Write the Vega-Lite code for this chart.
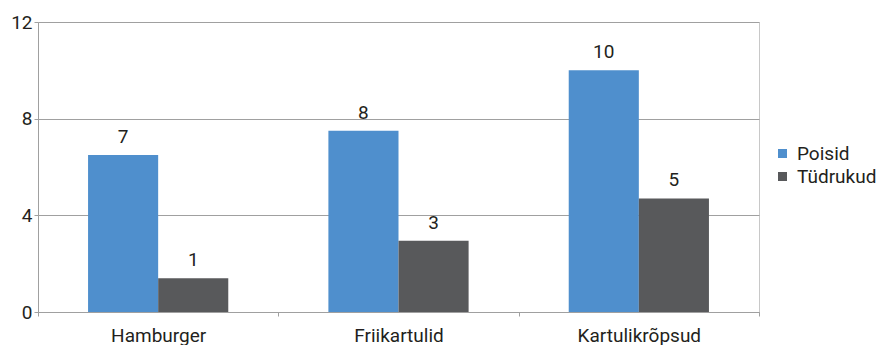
{
  "$schema": "https://vega.github.io/schema/vega-lite/v6.json",
  "width": 721,
  "height": 290,
  "autosize": "none",
  "padding": {"left": 38, "top": 22, "right": 118, "bottom": 33},
  "background": "white",
  "config": {
    "font": "Roboto",
    "view": {"stroke": "#c8c8c8", "strokeWidth": 1},
    "axis": {"labelColor": "#231f20", "labelFont": "Roboto", "labelFontSize": 19}
  },
  "data": {
    "values": [
      {"toit": "Hamburger", "grupp": "Poisid", "arv": 6.5},
      {"toit": "Hamburger", "grupp": "Tüdrukud", "arv": 1.4},
      {"toit": "Friikartulid", "grupp": "Poisid", "arv": 7.5},
      {"toit": "Friikartulid", "grupp": "Tüdrukud", "arv": 2.95},
      {"toit": "Kartulikrõpsud", "grupp": "Poisid", "arv": 10},
      {"toit": "Kartulikrõpsud", "grupp": "Tüdrukud", "arv": 4.7}
    ]
  },
  "encoding": {
    "x": {
      "field": "toit", "type": "nominal", "sort": null,
      "scale": {"paddingInner": 0, "paddingOuter": 0},
      "axis": {"title": null, "labelAngle": 0, "tickBand": "extent", "tickSize": 4, "tickColor": "#a0a0a0", "domainColor": "#a0a0a0", "labelPadding": 10, "grid": false}
    },
    "xOffset": {
      "field": "grupp", "type": "nominal",
      "scale": {"paddingInner": 0, "paddingOuter": 0.714}
    },
    "y": {
      "field": "arv", "type": "quantitative",
      "scale": {"domain": [0, 12], "nice": false},
      "axis": {"title": null, "values": [0, 4, 8, 12], "tickSize": 4, "labelPadding": 2, "tickColor": "#a0a0a0", "domainColor": "#a0a0a0", "gridColor": "#a0a0a0", "gridOpacity": 1, "grid": true}
    }
  },
  "layer": [
    {
      "mark": {"type": "bar"},
      "encoding": {
        "color": {
          "field": "grupp", "type": "nominal",
          "scale": {"domain": ["Poisid", "Tüdrukud"], "range": ["#4f8fcd", "#58595b"]},
          "legend": {
            "title": null, "orient": "none", "legendX": 735, "legendY": 122,
            "symbolType": "square", "symbolSize": 81, "symbolStrokeWidth": 0,
            "labelFontSize": 19, "labelColor": "#231f20", "labelFont": "Roboto",
            "rowPadding": 3, "labelOffset": 5, "padding": 0
          }
        }
      }
    },
    {
      "mark": {"type": "text", "baseline": "bottom", "dy": -8, "fontSize": 19, "color": "#231f20", "font": "Roboto"},
      "encoding": {
        "text": {"field": "arv", "type": "quantitative", "format": ".0f"}
      }
    }
  ]
}
